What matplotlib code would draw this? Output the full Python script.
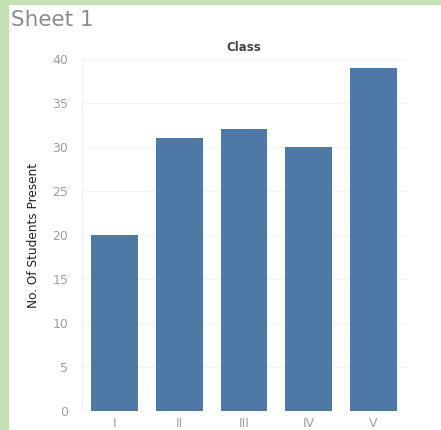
import matplotlib.pyplot as plt
from matplotlib.patches import Rectangle

# data
classes = ["I", "II", "III", "IV", "V"]
students = [20, 31, 32, 30, 39]
y_ticks = [0, 5, 10, 15, 20, 25, 30, 35, 40]

bar_color = "#4e79a7"
green = "#c5e0b4"

fig = plt.figure(figsize=(4.41, 4.30), dpi=100)

# green page border (left + top strip)
fig.patches.append(Rectangle((0, 0), 8 / 441, 1, transform=fig.transFigure, color=green, zorder=0))
fig.patches.append(Rectangle((0, 1 - 4 / 430), 1, 4 / 430, transform=fig.transFigure, color=green, zorder=0))

fig.text(11 / 441, 1 - 20 / 430, "Sheet 1", fontsize=15.5, color="#8c8c8c", va="center", ha="left")

ax = fig.add_axes([82 / 441, 19 / 430, 324 / 441, 352 / 430])
x = list(range(len(classes)))
ax.bar(x, students, width=0.72, color=bar_color, zorder=3)

ax.set_xlim(-0.5, len(classes) - 0.5)
ax.set_ylim(0, 40)
ax.set_xticks(x)
ax.set_xticklabels(classes)
ax.set_yticks(y_ticks)
ax.tick_params(axis="both", length=0, colors="#a0a0a0", labelsize=9)
ax.tick_params(axis="y", pad=10)
ax.tick_params(axis="x", pad=4)

ax.grid(axis="y", color="#f2f2f2", linewidth=0.8, zorder=0)
for s in ["top", "right", "bottom"]:
    ax.spines[s].set_visible(False)
ax.spines["left"].set_color("#f0f0f0")

ax.set_title("Class", fontsize=8.5, fontweight="bold", color="#444444", pad=6)
ax.set_ylabel("No. Of Students Present", fontsize=8.7, color="#222222",
              family=["Liberation Sans Narrow", "DejaVu Sans"], labelpad=9)

fig.savefig("out.png", dpi=100)
